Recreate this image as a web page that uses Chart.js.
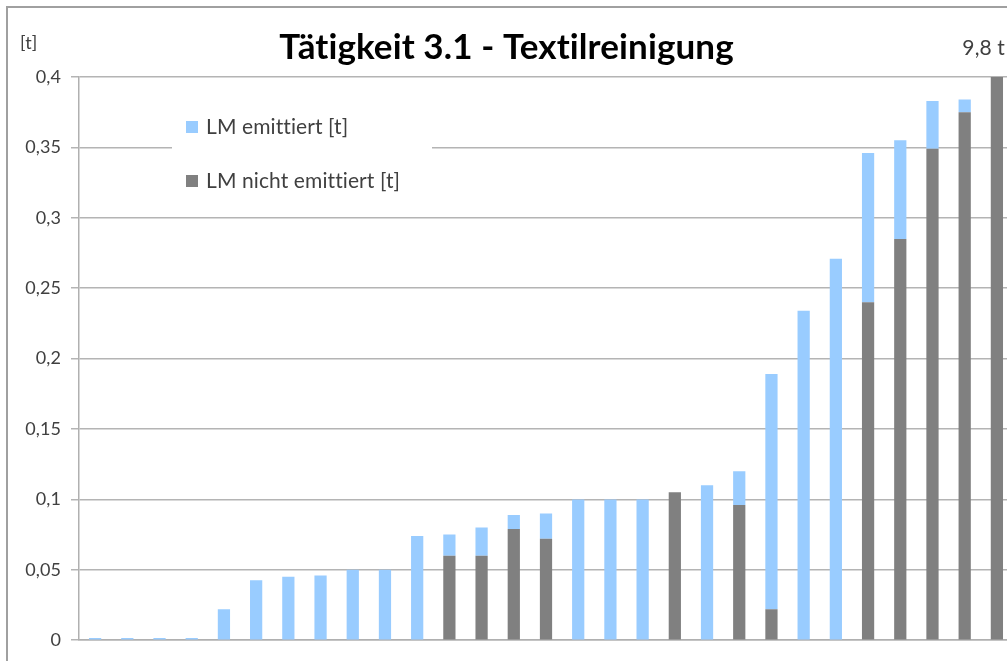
<!DOCTYPE html>
<html>
<head>
<meta charset="utf-8">
<script src="https://cdn.jsdelivr.net/npm/chart.js@4.4.0/dist/chart.umd.min.js"></script>
<style>
  html, body { margin: 0; padding: 0; background: #fff; overflow: hidden; }
  #frame { position: absolute; left: 6px; top: 6px; width: 1100px; height: 700px;
           border-left: 2px solid #a0a0a0; border-top: 2px solid #a0a0a0; }
  #wrap { position: absolute; left: 0; top: 0; width: 1013px; height: 661px; }
</style>
</head>
<body>
<div id="frame"></div>
<div id="wrap"><canvas id="myChart"></canvas></div>
<script>
// Betriebe (ohne Beschriftung im Original)
const betriebe = ['1','2','3','4','5','6','7','8','9','10','11','12','13','14','15',
                  '16','17','18','19','20','21','22','23','24','25','26','27','28','29'];

// LM nicht emittiert [t] (unten gestapelt)
const nichtEmittiert = [0, 0, 0, 0, 0, 0, 0, 0, 0, 0, -0.001, 0.060, 0.060, 0.079, 0.072,
                        0, 0, 0, 0.105, 0, 0.096, 0.022, 0, 0, 0.240, 0.285, 0.349, 0.375, 9.8];

// LM emittiert [t] (oben drauf)
const emittiert = [0.0015, 0.0015, 0.0015, 0.0015, 0.022, 0.0425, 0.045, 0.046, 0.050, 0.050, 0.074, 0.015, 0.020, 0.010, 0.018,
                   0.100, 0.100, 0.100, 0, 0.110, 0.024, 0.167, 0.234, 0.271, 0.106, 0.070, 0.034, 0.009, 0];

const yTicks = ['0', '0,05', '0,1', '0,15', '0,2', '0,25', '0,3', '0,35', '0,4'];
const ueberlaufText = '9,8 t';
const schrift = 'Lato, "Open Sans", sans-serif';

const ctx = document.getElementById('myChart');

// keine Ligaturen (ti, tt) im Canvas-Text
const keineLigaturen = {
  id: 'keineLigaturen',
  beforeDraw(chart) {
    chart.ctx.letterSpacing = '0.1px';
  }
};

// eigene Legende im Diagramm + Beschriftungen
const extras = {
  id: 'extras',
  afterDraw(chart) {
    const c = chart.ctx;
    c.save();
    c.letterSpacing = '0.1px';
    // Legendenkasten
    c.fillStyle = '#ffffff';
    c.fillRect(172, 100, 260, 104);
    const items = chart.data.datasets.slice().reverse();
    c.font = '21px ' + schrift;
    c.textBaseline = 'middle';
    items.forEach(function (ds, i) {
      const y = 127 + i * 54;
      c.fillStyle = ds.backgroundColor;
      c.fillRect(186, y - 6, 12, 12);
      c.fillStyle = '#404040';
      c.fillText(ds.label, 206, y);
    });
    // Einheit
    c.font = '18px ' + schrift;
    c.fillText('[t]', 20, 43);
    // Wert des abgeschnittenen Balkens
    const meta = chart.getDatasetMeta(0);
    const last = meta.data[meta.data.length - 1];
    c.font = '21px ' + schrift;
    c.textAlign = 'right';
    c.fillText(ueberlaufText, last.x + 8, 48);
    c.restore();
  }
};

new Chart(ctx, {
  type: 'bar',
  data: {
    labels: betriebe,
    datasets: [{
      label: 'LM nicht emittiert [t]',
      data: nichtEmittiert,
      backgroundColor: '#808080',
      borderWidth: 0,
      categoryPercentage: 1,
      barPercentage: 0.38
    },
    {
      label: 'LM emittiert [t]',
      data: emittiert,
      backgroundColor: '#99ccff',
      borderWidth: 0,
      categoryPercentage: 1,
      barPercentage: 0.38
    }]
  },
  options: {
    responsive: true,
    maintainAspectRatio: false,
    animation: false,
    layout: { padding: { top: 6, left: 0, right: 0, bottom: 11 } },
    scales: {
      x: {
        stacked: true,
        grid: { display: false },
        border: { color: '#b0b0b0', width: 1.5 },
        ticks: { display: false }
      },
      y: {
        stacked: true,
        min: 0,
        max: 0.4,
        ticks: {
          stepSize: 0.05,
          color: '#404040',
          font: { family: schrift, size: 18 },
          padding: 10,
          callback: function (v, i) { return yTicks[i]; }
        },
        grid: { color: '#b4b4b4', lineWidth: 1.5, tickLength: 8 },
        border: { color: '#b0b0b0', width: 1.5 },
        afterFit: function (axis) { axis.width = 79; }
      }
    },
    plugins: {
      legend: { display: false },
      tooltip: { enabled: false },
      title: {
        display: true,
        text: 'Tätigkeit 3.1 - Textilreinigung',
        color: '#000000',
        font: { family: schrift, size: 35, weight: 'bold' },
        padding: { top: 21, bottom: 8 }
      }
    }
  },
  plugins: [keineLigaturen, extras]
});
</script>
</body>
</html>
